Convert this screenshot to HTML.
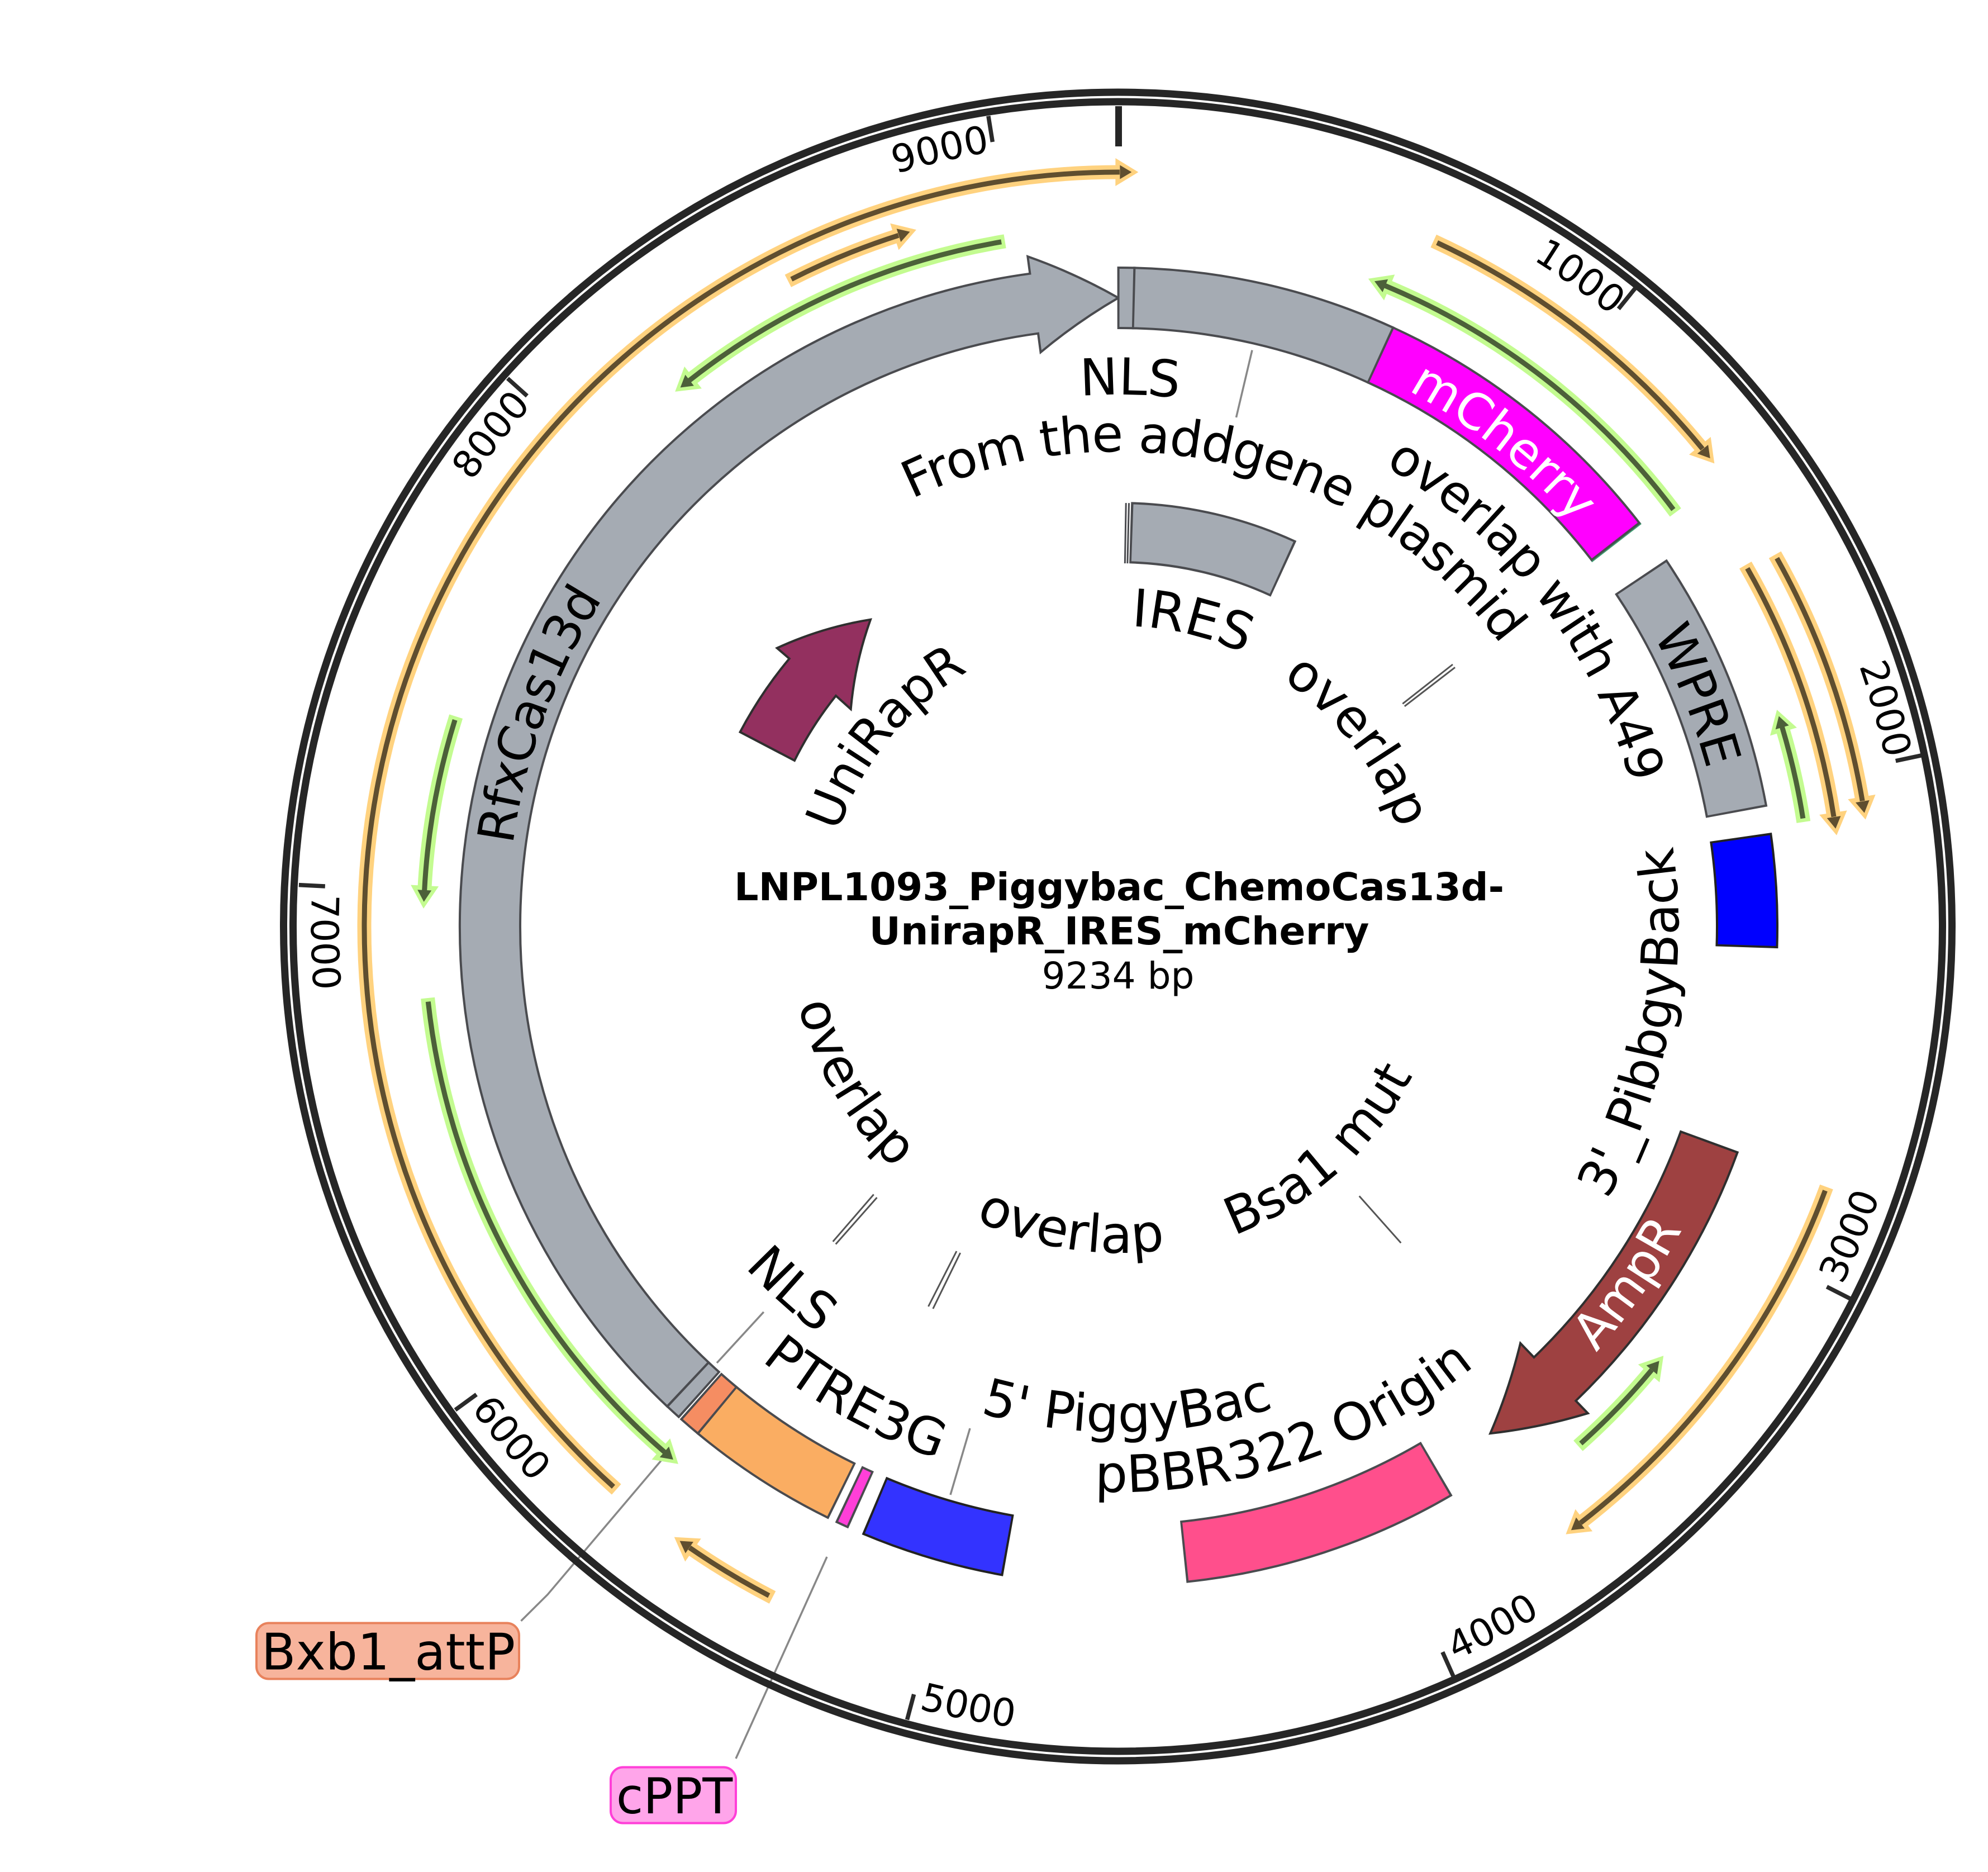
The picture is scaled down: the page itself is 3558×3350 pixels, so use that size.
<!DOCTYPE html>
<html><head><meta charset="utf-8"><style>
html,body{margin:0;padding:0;background:#fff;overflow:hidden;width:3558px;height:3350px}
svg{display:block}
text{font-family:"DejaVu Sans","Liberation Sans",sans-serif;font-size:91px;fill:#000}
text.tk{font-size:68px}
circle{fill:none;cx:2002px;cy:1658px}
</style></head><body>
<svg xmlns="http://www.w3.org/2000/svg" width="3558" height="3350" viewBox="0 0 3558 3350" overflow="hidden">
<defs>
<path id="t952" d="M2002 2610A952 952 0 1 1 2002 706A952 952 0 1 1 2002 2610"/>
<path id="t850" d="M2002 2508A850 850 0 1 1 2002 808A850 850 0 1 1 2002 2508"/>
<path id="t1094" d="M2002 2752A1094 1094 0 1 1 2002 564A1094 1094 0 1 1 2002 2752"/>
<path id="t1090" d="M2002 2748A1090 1090 0 1 1 2002 568A1090 1090 0 1 1 2002 2748"/>
<path id="t538" d="M2002 2196A538 538 0 1 1 2002 1120A538 538 0 1 1 2002 2196"/>
<path id="t530" d="M2002 2188A530 530 0 1 1 2002 1128A530 530 0 1 1 2002 2188"/>
<path id="t1405" d="M2002 3063A1405 1405 0 1 1 2002 253A1405 1405 0 1 1 2002 3063"/>
<path id="b1145" d="M2002 513A1145 1145 0 1 0 2002 2803A1145 1145 0 1 0 2002 513"/>
<path id="b1002" d="M2002 656A1002 1002 0 1 0 2002 2660A1002 1002 0 1 0 2002 656"/>
<path id="b1012" d="M2002 646A1012 1012 0 1 0 2002 2670A1012 1012 0 1 0 2002 646"/>
<path id="b905" d="M2002 753A905 905 0 1 0 2002 2563A905 905 0 1 0 2002 753"/>
<path id="b1006" d="M2002 652A1006 1006 0 1 0 2002 2664A1006 1006 0 1 0 2002 652"/>
<path id="b584" d="M2002 1074A584 584 0 1 0 2002 2242A584 584 0 1 0 2002 1074"/>
<path id="b590" d="M2002 1068A590 590 0 1 0 2002 2248A590 590 0 1 0 2002 1068"/>
<path id="b1445" d="M2002 213A1445 1445 0 1 0 2002 3103A1445 1445 0 1 0 2002 213"/>
<path id="oh" d="M-8 -25L33 0L-8 25Z" fill="#ffd27f"/>
<path id="od" d="M0 -12.5L21 0L0 12.5Z" fill="#5f4e2f"/>
<path id="gh" d="M-8 -25L33 0L-8 25Z" fill="#c3fb90"/>
<path id="gd" d="M0 -12.5L21 0L0 12.5Z" fill="#4c6039"/>
</defs>

<!-- leader lines under the ring -->
<g fill="none" stroke="#888" stroke-width="3.5">
<path d="M1183 2614L980 2853.6L932.5 2900.8"/>
<path d="M1480 2786L1317 3147"/>
<path d="M2241 626.6L2212.5 747"/>
<path d="M1366.8 2347.8L1283 2439"/>
<path d="M1736 2556L1701 2675"/>
</g>
<g fill="none" stroke="#555" stroke-width="3">
<path d="M2510.3 1259.4L2600 1189M2513.8 1263.9L2604.1 1194.3"/>
<path d="M1563.7 2137.5L1490.7 2221.9M1569.5 2143L1495.7 2226.5"/>
<path d="M1712 2239L1661.5 2338M1718.7 2242L1669.8 2342"/>
<path d="M2432.7 2140.4L2507.3 2224.2"/>
</g>

<!-- backbone rings -->
<circle style="cx:2000.5px" cx="2000.5" cy="1658" r="1493" stroke="#262626" stroke-width="13"/>
<circle style="cx:2000.5px" cx="2000.5" cy="1658" r="1476" stroke="#262626" stroke-width="13"/>

<!-- ticks -->
<line x1="2002" y1="190" x2="2002" y2="262" stroke="#262626" stroke-width="12"/>
<g stroke="#2a2a2a" stroke-width="7.5">
<line x1="2002" y1="189" x2="2002" y2="236" transform="rotate(38.99 2002 1658)"/>
<line x1="2002" y1="189" x2="2002" y2="236" transform="rotate(77.97 2002 1658)"/>
<line x1="2002" y1="189" x2="2002" y2="236" transform="rotate(116.96 2002 1658)"/>
<line x1="2002" y1="189" x2="2002" y2="236" transform="rotate(155.94 2002 1658)"/>
<line x1="2002" y1="189" x2="2002" y2="236" transform="rotate(194.93 2002 1658)"/>
<line x1="2002" y1="189" x2="2002" y2="236" transform="rotate(233.92 2002 1658)"/>
<line x1="2002" y1="189" x2="2002" y2="236" transform="rotate(272.9 2002 1658)"/>
<line x1="2002" y1="189" x2="2002" y2="236" transform="rotate(311.89 2002 1658)"/>
<line x1="2002" y1="189" x2="2002" y2="236" transform="rotate(350.87 2002 1658)"/>
</g>

<!-- orange tracks -->
<g stroke="#ffd27f" stroke-width="25">
<circle cx="2002" cy="1658" r="1350" pathLength="360" stroke-dasharray="138.35 221.65" stroke-dashoffset="-131.75"/>
<circle cx="2002" cy="1658" r="1298" pathLength="360" stroke-dasharray="9.45 350.55" stroke-dashoffset="-242.9"/>
<circle cx="2002" cy="1658" r="1350" pathLength="360" stroke-dasharray="26.05 333.95" stroke-dashoffset="65.3"/>
<circle cx="2002" cy="1658" r="1295" pathLength="360" stroke-dasharray="21.24 338.76" stroke-dashoffset="29.94"/>
<circle cx="2002" cy="1658" r="1350" pathLength="360" stroke-dasharray="19.95 340.05" stroke-dashoffset="29.5"/>
<circle cx="2002" cy="1658" r="1350" pathLength="360" stroke-dasharray="32.05 327.95" stroke-dashoffset="-20.2"/>
<circle cx="2002" cy="1658" r="1351" pathLength="360" stroke-dasharray="7.35 352.65" stroke-dashoffset="-117.3"/>
</g>
<use href="#oh" transform="rotate(0.1 2002 1658) translate(2002 308)"/>
<use href="#oh" transform="rotate(342.35 2002 1658) translate(2002 360)"/>
<use href="#oh" transform="rotate(50.75 2002 1658) translate(2002 308)"/>
<use href="#oh" transform="rotate(81.3 2002 1658) translate(2002 363)"/>
<use href="#oh" transform="rotate(80.45 2002 1658) translate(2002 308)"/>
<use href="#oh" transform="rotate(142.25 2002 1658) translate(2002 308)"/>
<use href="#oh" transform="rotate(214.65 2002 1658) translate(2002 307)"/>
<g stroke="#5f4e2f" stroke-width="9">
<circle cx="2002" cy="1658" r="1350" pathLength="360" stroke-dasharray="138.05 221.95" stroke-dashoffset="-132.05"/>
<circle cx="2002" cy="1658" r="1298" pathLength="360" stroke-dasharray="9.15 350.85" stroke-dashoffset="-243.2"/>
<circle cx="2002" cy="1658" r="1350" pathLength="360" stroke-dasharray="25.75 334.25" stroke-dashoffset="65"/>
<circle cx="2002" cy="1658" r="1295" pathLength="360" stroke-dasharray="20.94 339.06" stroke-dashoffset="29.64"/>
<circle cx="2002" cy="1658" r="1350" pathLength="360" stroke-dasharray="19.65 340.35" stroke-dashoffset="29.2"/>
<circle cx="2002" cy="1658" r="1350" pathLength="360" stroke-dasharray="31.75 328.25" stroke-dashoffset="-20.5"/>
<circle cx="2002" cy="1658" r="1351" pathLength="360" stroke-dasharray="7.05 352.95" stroke-dashoffset="-117.6"/>
</g>
<use href="#od" transform="rotate(0.1 2002 1658) translate(2002 308)"/>
<use href="#od" transform="rotate(342.35 2002 1658) translate(2002 360)"/>
<use href="#od" transform="rotate(50.75 2002 1658) translate(2002 308)"/>
<use href="#od" transform="rotate(81.3 2002 1658) translate(2002 363)"/>
<use href="#od" transform="rotate(80.45 2002 1658) translate(2002 308)"/>
<use href="#od" transform="rotate(142.25 2002 1658) translate(2002 308)"/>
<use href="#od" transform="rotate(214.65 2002 1658) translate(2002 307)"/>

<!-- green tracks -->
<g stroke="#c3fb90" stroke-width="25">
<circle cx="2002" cy="1658" r="1243" pathLength="360" stroke-dasharray="28.75 331.25" stroke-dashoffset="-231.85"/>
<circle cx="2002" cy="1658" r="1244" pathLength="360" stroke-dasharray="14.6 345.4" stroke-dashoffset="-183"/>
<circle cx="2002" cy="1658" r="1243" pathLength="360" stroke-dasharray="43.25 316.75" stroke-dashoffset="-130.85"/>
<circle cx="2002" cy="1658" r="1242" pathLength="360" stroke-dasharray="30.8 329.2" stroke-dashoffset="67.4"/>
<circle cx="2002" cy="1658" r="1240" pathLength="360" stroke-dasharray="8.05 351.95" stroke-dashoffset="16.7"/>
<circle cx="2002" cy="1658" r="1241" pathLength="360" stroke-dasharray="8.75 351.25" stroke-dashoffset="-39.75"/>
</g>
<use href="#gh" transform="rotate(321.85 2002 1658) translate(2002 415) scale(-1 1)"/>
<use href="#gh" transform="rotate(273 2002 1658) translate(2002 414) scale(-1 1)"/>
<use href="#gh" transform="rotate(220.85 2002 1658) translate(2002 415) scale(-1 1)"/>
<use href="#gh" transform="rotate(22.6 2002 1658) translate(2002 416) scale(-1 1)"/>
<use href="#gh" transform="rotate(73.3 2002 1658) translate(2002 418) scale(-1 1)"/>
<use href="#gh" transform="rotate(129.75 2002 1658) translate(2002 417) scale(-1 1)"/>
<g stroke="#4c6039" stroke-width="9">
<circle cx="2002" cy="1658" r="1243" pathLength="360" stroke-dasharray="28.45 331.55" stroke-dashoffset="-231.85"/>
<circle cx="2002" cy="1658" r="1244" pathLength="360" stroke-dasharray="14.3 345.7" stroke-dashoffset="-183"/>
<circle cx="2002" cy="1658" r="1243" pathLength="360" stroke-dasharray="42.95 317.05" stroke-dashoffset="-130.85"/>
<circle cx="2002" cy="1658" r="1242" pathLength="360" stroke-dasharray="30.5 329.5" stroke-dashoffset="67.4"/>
<circle cx="2002" cy="1658" r="1240" pathLength="360" stroke-dasharray="7.75 352.25" stroke-dashoffset="16.7"/>
<circle cx="2002" cy="1658" r="1241" pathLength="360" stroke-dasharray="8.45 351.55" stroke-dashoffset="-39.75"/>
</g>
<use href="#gd" transform="rotate(321.85 2002 1658) translate(2002 415) scale(-1 1)"/>
<use href="#gd" transform="rotate(273 2002 1658) translate(2002 414) scale(-1 1)"/>
<use href="#gd" transform="rotate(220.85 2002 1658) translate(2002 415) scale(-1 1)"/>
<use href="#gd" transform="rotate(22.6 2002 1658) translate(2002 416) scale(-1 1)"/>
<use href="#gd" transform="rotate(73.3 2002 1658) translate(2002 418) scale(-1 1)"/>
<use href="#gd" transform="rotate(129.75 2002 1658) translate(2002 417) scale(-1 1)"/>

<!-- big arrows -->
<path d="M1194.1 2516.8A1179 1179 0 0 1 1843.4 489.7L1839.3 459A1000 1000 0 0 1 2001.5 533A1000 1000 0 0 0 1862.5 630.4L1858 596.7A1071 1071 0 0 0 1268.2 2438.1Z" fill="#a5abb3" stroke="#4a4b4f" stroke-width="4" stroke-linejoin="miter"/>
<path d="M3109.6 2062.2A1179 1179 0 0 1 2820.3 2506.8L2841.9 2529.1A1000 1000 0 0 1 2667.2 2565.2A1000 1000 0 0 0 2721.1 2403.8L2745.4 2429A1071 1071 0 0 0 3008.1 2025.1Z" fill="#9e4141" stroke="#2f2f2f" stroke-width="4"/>
<path d="M1324.6 1310A760 760 0 0 1 1412.7 1178.6L1390.7 1159.7A640 640 0 0 1 1558 1108.7A640 640 0 0 0 1522.7 1269L1496 1245A652 652 0 0 0 1422 1361Z" fill="#93305f" stroke="#2f2f2f" stroke-width="4"/>

<!-- feature bands -->
<circle cx="2002" cy="1658" r="1125" stroke="#3f9d72" stroke-width="112" pathLength="360" stroke-dasharray="0.25 359.75" stroke-dashoffset="37.8"/>
<g stroke="#4a4b4f" stroke-width="112">
<circle cx="2002" cy="1658" r="1125" pathLength="360" stroke-dasharray="1.6 358.4" stroke-dashoffset="90.1"/>
<circle cx="2002" cy="1658" r="1125" pathLength="360" stroke-dasharray="23.45 336.55" stroke-dashoffset="88.7"/>
<circle cx="2002" cy="1658" r="1125" pathLength="360" stroke-dasharray="27.8 332.2" stroke-dashoffset="65.45"/>
<circle cx="2002" cy="1658" r="1125" pathLength="360" stroke-dasharray="23.35 336.65" stroke-dashoffset="33.8"/>
<circle cx="2002" cy="1658" r="1125" pathLength="360" stroke-dasharray="24.5 335.5" stroke-dashoffset="-59.6"/>
<circle cx="2002" cy="1658" r="1125" pathLength="360" stroke-dasharray="1.25 358.75" stroke-dashoffset="-114.2"/>
<circle cx="2002" cy="1658" r="1125" pathLength="360" stroke-dasharray="13.7 346.3" stroke-dashoffset="-116.1"/>
<circle cx="2002" cy="1658" r="1125" pathLength="360" stroke-dasharray="2.1 357.9" stroke-dashoffset="-129.6"/>
<circle cx="2002" cy="1658" r="1125" pathLength="360" stroke-dasharray="1.55 358.45" stroke-dashoffset="-131.8"/>
</g>
<g stroke="#222" stroke-width="112">
<circle cx="2002" cy="1658" r="1125" pathLength="360" stroke-dasharray="10.05 349.95" stroke-dashoffset="8.15"/>
<circle cx="2002" cy="1658" r="1125" pathLength="360" stroke-dasharray="12.8 347.2" stroke-dashoffset="-100.1"/>
</g>
<g stroke-width="104">
<circle cx="2002" cy="1658" r="1125" stroke="#a5abb3" pathLength="360" stroke-dasharray="1.2 358.8" stroke-dashoffset="89.9"/>
<circle cx="2002" cy="1658" r="1125" stroke="#a5abb3" pathLength="360" stroke-dasharray="23.05 336.95" stroke-dashoffset="88.5"/>
<circle cx="2002" cy="1658" r="1125" stroke="#ff00ff" pathLength="360" stroke-dasharray="27.4 332.6" stroke-dashoffset="65.25"/>
<circle cx="2002" cy="1658" r="1125" stroke="#a5abb3" pathLength="360" stroke-dasharray="22.95 337.05" stroke-dashoffset="33.6"/>
<circle cx="2002" cy="1658" r="1125" stroke="#0000ff" pathLength="360" stroke-dasharray="9.65 350.35" stroke-dashoffset="7.95"/>
<circle cx="2002" cy="1658" r="1125" stroke="#ff4f8c" pathLength="360" stroke-dasharray="24.1 335.9" stroke-dashoffset="-59.8"/>
<circle cx="2002" cy="1658" r="1125" stroke="#3333ff" pathLength="360" stroke-dasharray="12.4 347.6" stroke-dashoffset="-100.3"/>
<circle cx="2002" cy="1658" r="1125" stroke="#ff3fd8" pathLength="360" stroke-dasharray="0.85 359.15" stroke-dashoffset="-114.4"/>
<circle cx="2002" cy="1658" r="1125" stroke="#faad62" pathLength="360" stroke-dasharray="13.3 346.7" stroke-dashoffset="-116.3"/>
<circle cx="2002" cy="1658" r="1125" stroke="#f58d62" pathLength="360" stroke-dasharray="1.7 358.3" stroke-dashoffset="-129.8"/>
<circle cx="2002" cy="1658" r="1125" stroke="#a5abb3" pathLength="360" stroke-dasharray="1.15 358.85" stroke-dashoffset="-132"/>
</g>

<!-- IRES -->
<circle cx="2002" cy="1658" r="705" stroke="#4a4b4f" stroke-width="110" pathLength="360" stroke-dasharray="23.07 336.93" stroke-dashoffset="88.31"/>
<circle cx="2002" cy="1658" r="705" stroke="#a5abb3" stroke-width="102" pathLength="360" stroke-dasharray="22.43 337.57" stroke-dashoffset="87.99"/>
<g stroke="#4a4b4f" stroke-width="3">
<line x1="2002" y1="900" x2="2002" y2="1008" transform="rotate(1.0 2002 1658)"/>
<line x1="2002" y1="900" x2="2002" y2="1008" transform="rotate(1.4 2002 1658)"/>
</g>

<!-- labels -->
<text text-anchor="middle" transform="rotate(1.2 2002 1658)"><textPath href="#t952" startOffset="50%">NLS</textPath></text>
<text text-anchor="middle" style="letter-spacing:-1.75px" transform="rotate(13.85 2002 1658)"><textPath href="#t850" startOffset="50%">From the addgene plasmid</textPath></text>
<text text-anchor="middle" style="font-size:90px;letter-spacing:-1.6px" transform="rotate(52.2 2002 1658)"><textPath href="#t952" startOffset="50%">overlap with A49</textPath></text>
<text text-anchor="middle" style="font-size:90px;letter-spacing:-1.5px" transform="rotate(290 2002 1658)"><textPath href="#t1094" startOffset="50%">RfxCas13d</textPath></text>
<text text-anchor="middle" style="fill:#fff;font-size:89px" transform="rotate(38.45 2002 1658)"><textPath href="#t1090" startOffset="50%">mCherry</textPath></text>
<text text-anchor="middle" style="font-size:90px;letter-spacing:-1px" transform="rotate(68.2 2002 1658)"><textPath href="#t1090" startOffset="50%">WPRE</textPath></text>
<text text-anchor="middle" style="font-size:93px" transform="rotate(13.6 2002 1658)"><textPath href="#t538" startOffset="50%">IRES</textPath></text>
<text text-anchor="middle" style="font-size:92px" transform="rotate(52.2 2002 1658)"><textPath href="#t530" startOffset="50%">overlap</textPath></text>
<text text-anchor="middle" style="font-size:89px" transform="rotate(309 2002 1658)"><textPath href="#t530" startOffset="50%">UniRapR</textPath></text>
<text text-anchor="middle" style="fill:#fff;font-size:90px" transform="rotate(-55 2002 1658)"><textPath href="#b1145" startOffset="50%">AmpR</textPath></text>
<text text-anchor="middle" transform="rotate(-79.5 2002 1658)"><textPath href="#b1002" startOffset="50%">3'_PibbgyBack</textPath></text>
<text text-anchor="middle" style="font-size:92px" transform="rotate(-18.3 2002 1658)"><textPath href="#b1012" startOffset="50%">pBBR322 Origin</textPath></text>
<text text-anchor="middle" style="font-size:92px" transform="rotate(-1 2002 1658)"><textPath href="#b905" startOffset="50%">5' PiggyBac</textPath></text>
<text text-anchor="middle" style="font-size:92px" transform="rotate(29.1 2002 1658)"><textPath href="#b1006" startOffset="50%">PTRE3G</textPath></text>
<text text-anchor="middle" style="font-size:92px" transform="rotate(42 2002 1658)"><textPath href="#b905" startOffset="50%">NLS</textPath></text>
<text text-anchor="middle" style="font-size:92px" transform="rotate(59.5 2002 1658)"><textPath href="#b590" startOffset="50%">overlap</textPath></text>
<text text-anchor="middle" style="font-size:93px" transform="rotate(8.95 2002 1658)"><textPath href="#b584" startOffset="50%">overlap</textPath></text>
<text text-anchor="middle" style="font-size:92px" transform="rotate(-41.8 2002 1658)"><textPath href="#b590" startOffset="50%">Bsa1 mut</textPath></text>

<!-- tick labels -->
<text class="tk" text-anchor="end" transform="rotate(350.57 2002 1658)"><textPath href="#t1405" startOffset="50%">9000</textPath></text>
<text class="tk" text-anchor="end" transform="rotate(311.59 2002 1658)"><textPath href="#t1405" startOffset="50%">8000</textPath></text>
<text class="tk" text-anchor="end" transform="rotate(38.89 2002 1658)"><textPath href="#t1405" startOffset="50%">1000</textPath></text>
<text class="tk" text-anchor="end" transform="rotate(77.67 2002 1658)"><textPath href="#t1405" startOffset="50%">2000</textPath></text>
<text class="tk" text-anchor="start" transform="rotate(-63.64 2002 1658)"><textPath href="#b1445" startOffset="50%">3000</textPath></text>
<text class="tk" text-anchor="start" transform="rotate(-24.66 2002 1658)"><textPath href="#b1445" startOffset="50%">4000</textPath></text>
<text class="tk" text-anchor="start" transform="rotate(14.33 2002 1658)"><textPath href="#b1445" startOffset="50%">5000</textPath></text>
<text class="tk" text-anchor="start" transform="rotate(53.32 2002 1658)"><textPath href="#b1445" startOffset="50%">6000</textPath></text>
<text class="tk" text-anchor="start" transform="rotate(92.3 2002 1658)"><textPath href="#b1445" startOffset="50%">7000</textPath></text>

<!-- centre title -->
<text x="2003" y="1611" text-anchor="middle" textLength="1378" lengthAdjust="spacingAndGlyphs" style="font-size:69px;font-weight:bold">LNPL1093_Piggybac_ChemoCas13d-</text>
<text x="2003" y="1690" text-anchor="middle" textLength="895" lengthAdjust="spacingAndGlyphs" style="font-size:69px;font-weight:bold">UnirapR_IRES_mCherry</text>
<text x="2001" y="1769" text-anchor="middle" style="font-size:66px">9234 bp</text>

<!-- boxed labels -->
<rect x="459" y="2904.5" width="470" height="100" rx="22" fill="#f7b49c" stroke="#e8825c" stroke-width="4"/>
<text x="695" y="2987.5" text-anchor="middle" style="font-size:90px">Bxb1_attP</text>
<rect x="1093" y="3162.5" width="224" height="100" rx="22" fill="#ffa5ea" stroke="#ff3fd8" stroke-width="4"/>
<text x="1207" y="3245" text-anchor="middle" style="font-size:88px">cPPT</text>
</svg>
</body></html>
